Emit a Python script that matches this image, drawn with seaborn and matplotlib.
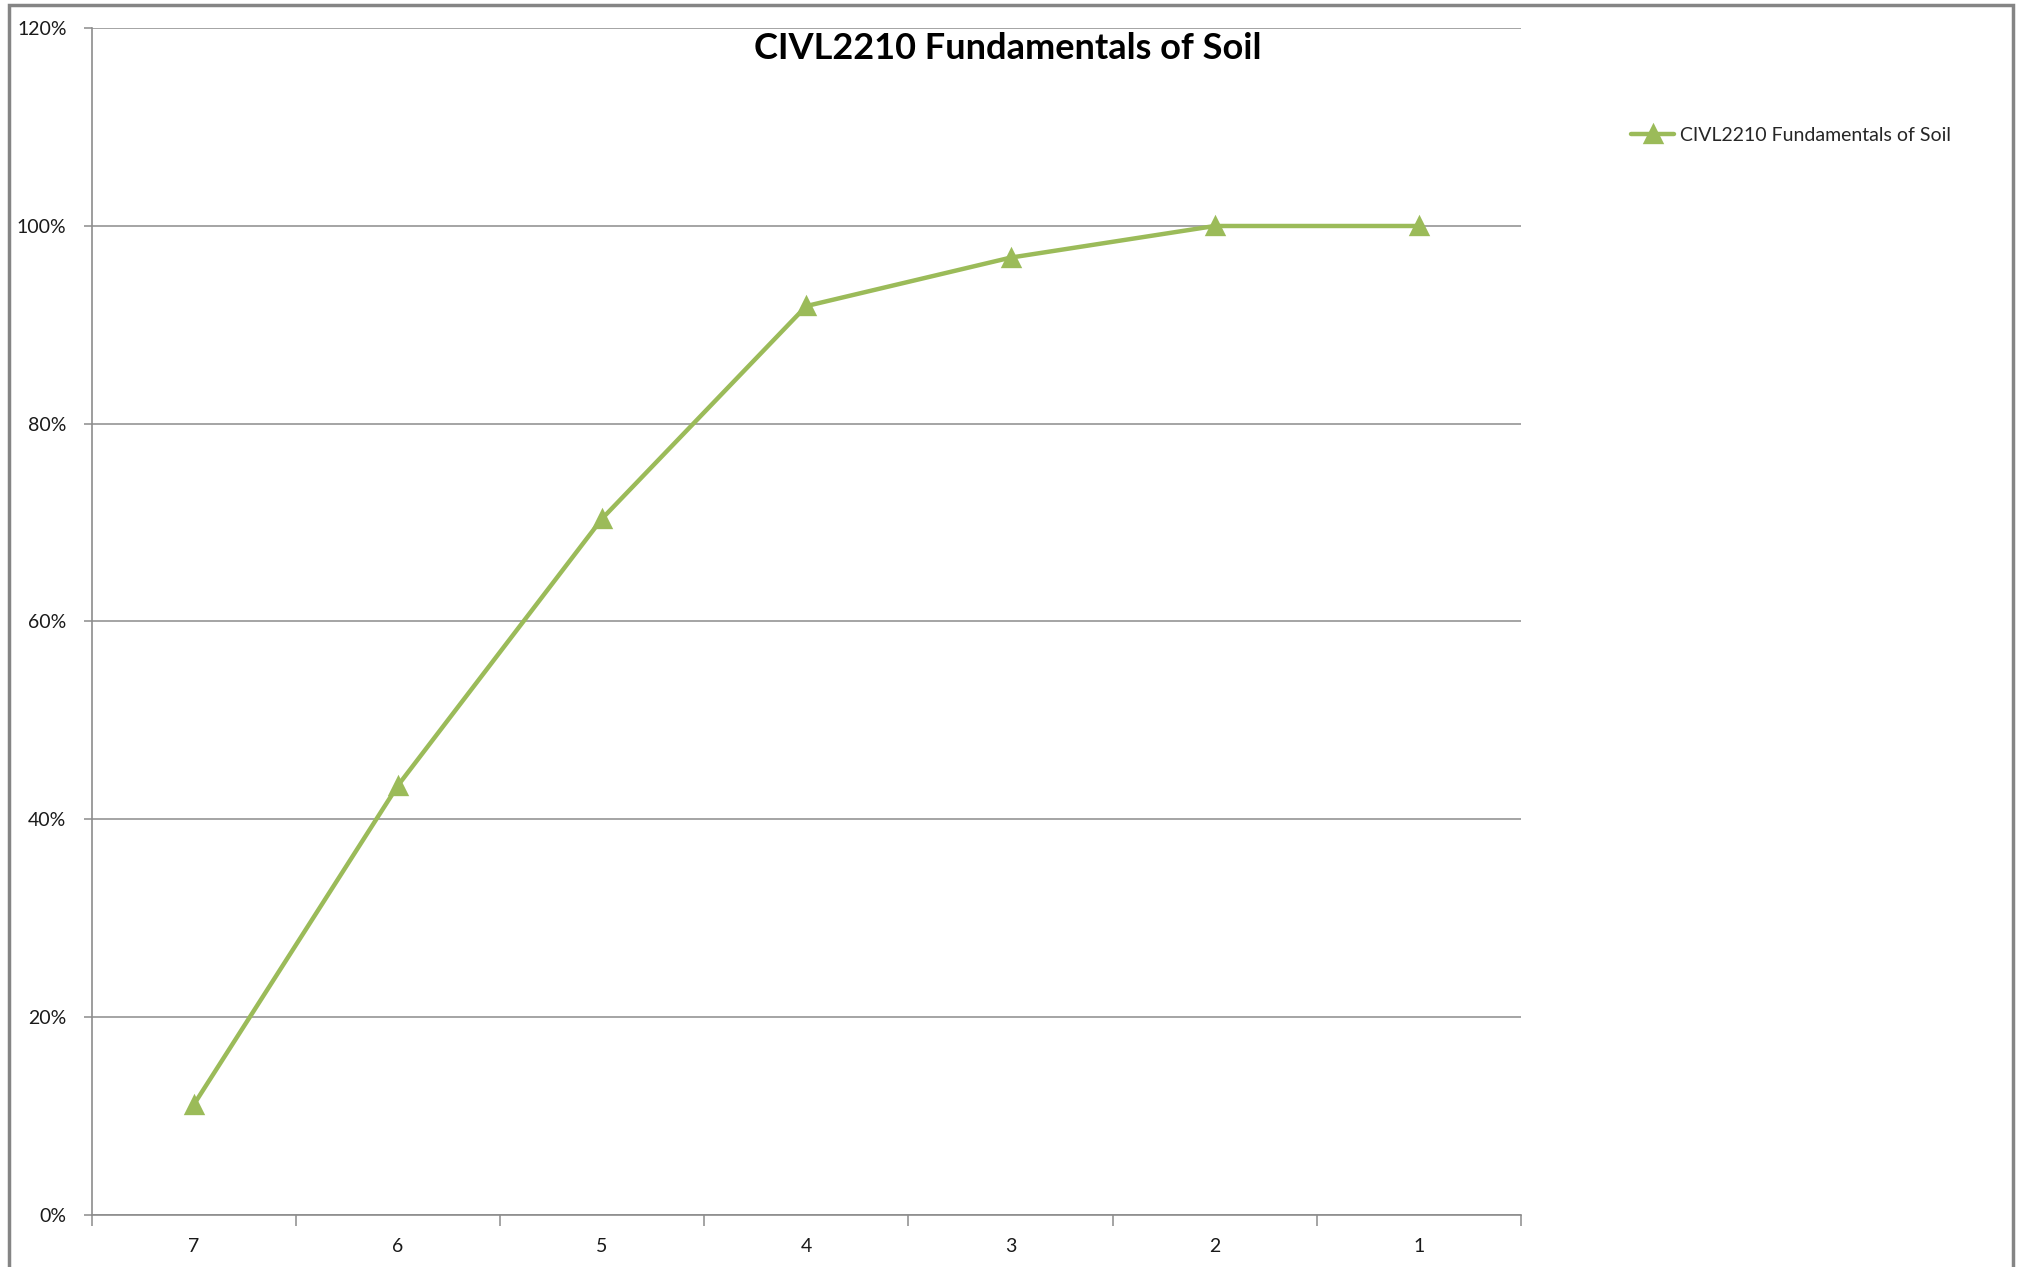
import matplotlib
matplotlib.use("Agg")
import matplotlib.pyplot as plt
import seaborn as sns
import pandas as pd
from matplotlib.patches import Rectangle
from matplotlib.ticker import FuncFormatter, MultipleLocator, FixedLocator

categories = ["7", "6", "5", "4", "3", "2", "1"]
values = [0.111, 0.434, 0.704, 0.919, 0.968, 1.0, 1.0]
series_name = "CIVL2210 Fundamentals of Soil"
title = "CIVL2210 Fundamentals of Soil"

sns.set_theme(style="white")
plt.rcParams["font.family"] = ["Lato", "DejaVu Sans"]

df = pd.DataFrame({"cat": categories, "val": values})

fig = plt.figure(figsize=(20.2, 12.67), dpi=100)
ax = fig.add_axes([0.0453, 0.0413, 0.753 - 0.0453, 0.9777 - 0.0413])

green = "#9BBB59"
sns.pointplot(data=df, x="cat", y="val", order=categories, color=green,
              markers="^", markersize=11, linewidth=3.2, ax=ax,
              label=series_name)

ax.set_xlim(-0.5, len(categories) - 0.5)
ax.set_ylim(0, 1.2)
ax.yaxis.set_major_locator(MultipleLocator(0.2))
ax.yaxis.set_major_formatter(FuncFormatter(lambda v, p: f"{v*100:.0f}%"))
ax.grid(axis="y", color="#8c8c8c", linewidth=1.1)
ax.grid(axis="x", visible=False)
ax.set_axisbelow(True)
for s in ["top", "right"]:
    ax.spines[s].set_visible(False)
for s in ["left", "bottom"]:
    ax.spines[s].set_color("#8c8c8c")
    ax.spines[s].set_linewidth(1.2)
ax.set_xlabel("")
ax.set_ylabel("")
ax.xaxis.set_minor_locator(FixedLocator([i - 0.5 for i in range(len(categories) + 1)]))
ax.tick_params(axis="x", which="major", length=0, pad=17, labelsize=14, labelcolor="#1a1a1a")
ax.tick_params(axis="x", which="minor", length=8, width=1.1, color="#8c8c8c", bottom=True, direction="out")
ax.tick_params(axis="y", which="major", length=6, width=1.1, color="#8c8c8c", left=True, direction="out",
               pad=12, labelsize=14, labelcolor="#1a1a1a")

fig.text(0.499, 0.962, title, ha="center", va="center", fontsize=26, fontweight="bold", color="#000000")

leg = ax.legend(loc="center left", bbox_to_anchor=(0.799, 0.893), bbox_transform=fig.transFigure,
                frameon=False, fontsize=14, handlelength=2.2, handletextpad=0.3)

fig.patches.append(Rectangle((9 / 2020, -0.05), (2013 - 9) / 2020, 1.05 - 5 / 1267,
                             transform=fig.transFigure, fill=False, edgecolor="#858585",
                             linewidth=2.5, clip_on=False))

fig.savefig("out.png", dpi=100, facecolor="white")
